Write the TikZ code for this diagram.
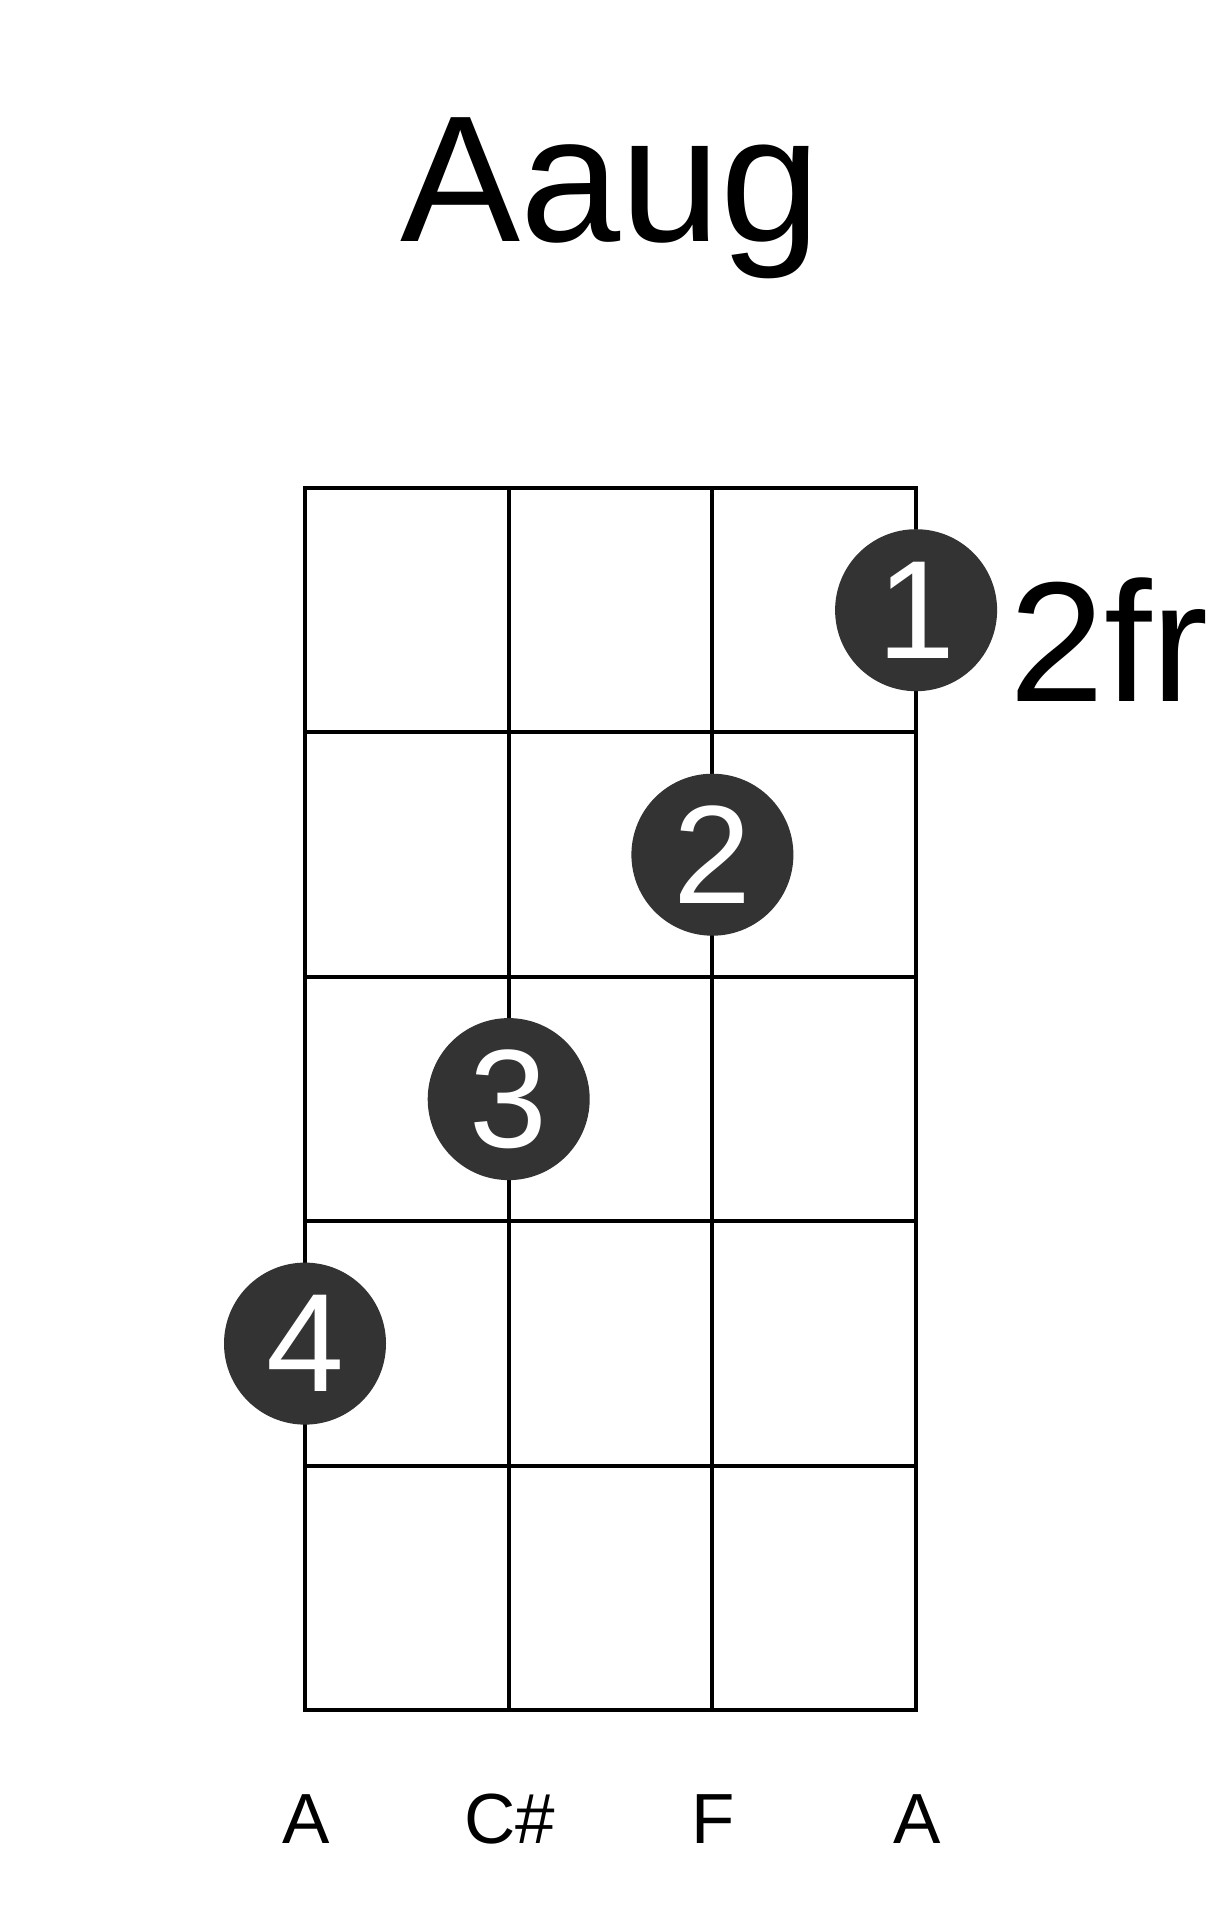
\documentclass[tikz,border=0pt]{standalone}
\usepackage{fontspec}
\setmainfont{Liberation Sans}
\usepackage{xcolor}
\definecolor{dotgray}{HTML}{333333}
\tikzset{
  fingerdot/.style={circle, fill=dotgray, minimum size=162pt, inner sep=0pt,
    text=white, font=\fontsize{140}{140}\selectfont},
  stringname/.style={anchor=base, inner sep=0pt, font=\fontsize{71}{71}\selectfont},
}

\begin{document}
\begin{tikzpicture}[x=1pt, y=-1pt, line width=4pt]
  \useasboundingbox (0,0) rectangle (1221,1917);
  \node[anchor=base, inner sep=0pt, font=\fontsize{180}{180}\selectfont] (title) at (610.6,241) {Aaug};
  % strings and frets
  \draw (305,488) rectangle (916.1,1710.3);
  \foreach \s in {1,2}
    \draw (305+203.7*\s,488) -- (305+203.7*\s,1710.3);
  \foreach \f in {1,...,4}
    \draw (305,488+244.46*\f) -- (916.1,488+244.46*\f);
  \node[anchor=base west, inner sep=0pt, font=\fontsize{171}{171}\selectfont] (fretnum) at (1007,701) {2fr};
  % fingers
  \node[fingerdot] (dotone) at (916.1,610.2) {1};
  \node[fingerdot] (dottwo) at (712.4,854.7) {2};
  \node[fingerdot] (dotthree) at (508.7,1099.1) {3};
  \node[fingerdot] (dotfour) at (305,1343.6) {4};
  \node[stringname] (strone) at (306,1843) {A};
  \node[stringname] (strtwo) at (509.7,1843) {C\#};
  \node[stringname] (strthree) at (713.4,1843) {F};
  \node[stringname] (strfour) at (917.1,1843) {A};
\end{tikzpicture}
\end{document}
